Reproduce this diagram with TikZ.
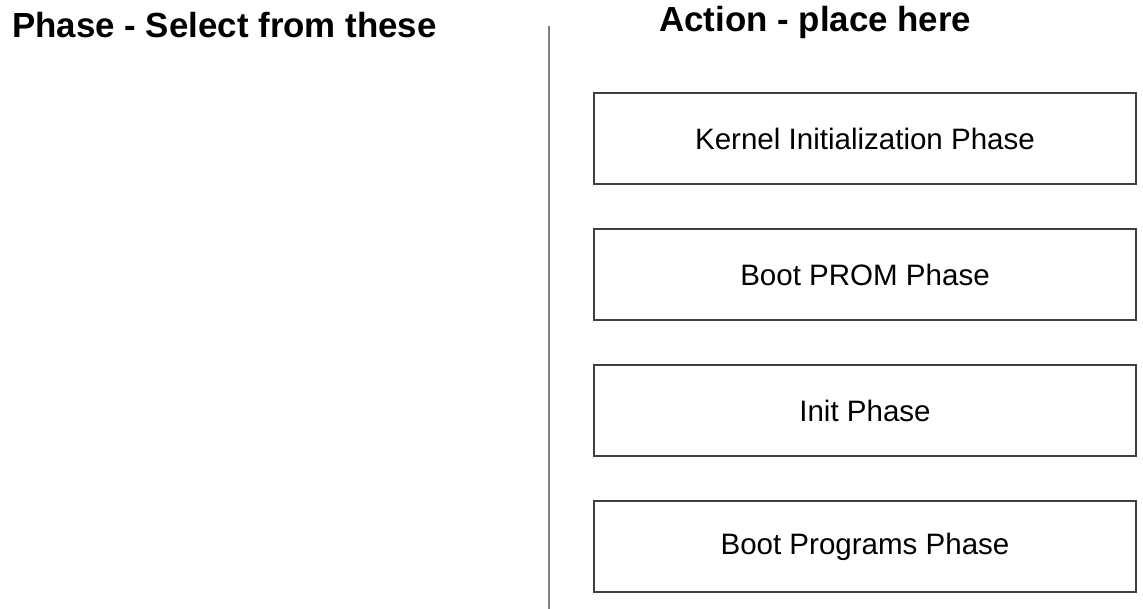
\documentclass[tikz,border=0pt]{standalone}
\usepackage{fontspec}
\setmainfont{Liberation Sans}
\usetikzlibrary{positioning}
\definecolor{boxline}{HTML}{404040}
\definecolor{divline}{HTML}{808080}
\tikzset{block/.style=
   {rectangle,
    draw=boxline,
    line width=1.4pt,
    text centered,
    minimum width=13.55cm,
    minimum height=2.275cm,
    font=\fontsize{21}{25}\selectfont}}
\tikzset{heading/.style =
   {anchor=base west,
    inner sep=0pt,
    font=\fontsize{24.8}{29}\selectfont\bfseries}}
\tikzset{divider/.style = {draw=divline, line width=1.4pt}}

\begin{document}
\begin{tikzpicture}[x=0.025cm,y=-0.025cm,node distance=1.075cm]

    \useasboundingbox (0,0) rectangle (1143,609);

    \node [heading] (select) at (12,38) {Phase - Select from these};
    \node [heading] (place) at (659,32) {Action - place here};

    \coordinate (divtop) at (549,26);
    \coordinate (divbot) at (549,609);
    \path [divider] (divtop) -- (divbot);

    \node [block] (kernel) at (865,138.5) {Kernel Initialization Phase};
    \node [block, below=of kernel] (bootprom) {Boot PROM Phase};
    \node [block, below=of bootprom] (init) {Init Phase};
    \node [block, below=of init] (bootprog) {Boot Programs Phase};

\end{tikzpicture}
\end{document}
